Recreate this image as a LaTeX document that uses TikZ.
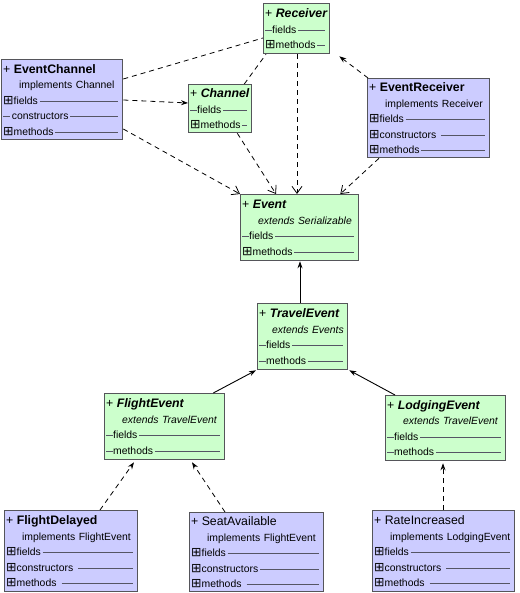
\documentclass[tikz,border=0pt]{standalone}
\usepackage{fontspec}
\setmainfont{Liberation Sans}
\newfontfamily\symfont{DejaVu Sans}
\usepackage{xcolor}
\usetikzlibrary{arrows.meta}

\definecolor{clsblue}{RGB}{204,204,255}
\definecolor{clsgreen}{RGB}{204,255,204}
\definecolor{clsborder}{RGB}{85,85,90}
\definecolor{rowline}{RGB}{85,85,100}

% one line of a class box
\newcommand{\rowfill}{{\color{rowline}\leaders\hrule height 3.5pt depth -2.5pt\hfill}\kern3pt}
\newcommand{\plusrow}[1]{\noindent\hbox to\linewidth{{\symfont\fontsize{12.5}{12}\selectfont ⊞}#1\,\rowfill}}
\newcommand{\barrow}[1]{\noindent\hbox to\linewidth{{\color{rowline}\rule[2.5pt]{7pt}{1pt}}#1\,\rowfill}}
\newcommand{\clstitle}[1]{\noindent\hbox{\fontsize{12.3}{15}\selectfont + #1}}
\newcommand{\clssub}[1]{\noindent\hbox{\hspace*{16pt}#1}}

\begin{document}
\begin{tikzpicture}[x=1pt,y=-1pt]
    \tikzset{
      cls/.style 2 args={
        rectangle,
        draw=clsborder,
        line width=1.3pt,
        anchor=north west,
        align=left,
        inner xsep=1.5pt,
        inner ysep=1pt,
        minimum width=#1,
        text width=\dimexpr#1pt-3pt\relax,
        minimum height=#2,
        font=\fontsize{10.4}{15.5}\selectfont,
      },
      bluecls/.style={fill=clsblue},
      greencls/.style={fill=clsgreen},
      dep/.style={dashed, dash pattern=on 5pt off 4pt, line width=0.8pt},
      realize/.style={dep, -{Straight Barb[length=7pt,width=10pt]}},
      uses/.style={dep, -{Stealth[length=7pt,width=5pt]}},
      inherit/.style={line width=0.9pt, -{Stealth[length=7pt,width=5pt]}},
    }
    \useasboundingbox (0,0) rectangle (519,593);

    % interfaces
    \node[cls={66}{50}, greencls] (recv) at (263,3)
      {\clstitle{\textbf{\textit{Receiver}}}\\ \barrow{fields}\\ \plusrow{methods}};
    \node[cls={63}{48}, greencls] (chan) at (188,84)
      {\clstitle{\textbf{\textit{Channel}}}\\ \barrow{fields}\\ \plusrow{methods}};
    \node[cls={118}{66}, greencls] (event) at (240,194)
      {\clstitle{\textbf{\textit{Event}}}\\ \clssub{\textit{extends Serializable}}\\ \barrow{fields}\\ \plusrow{methods}};
    \node[cls={90}{66}, greencls] (travel) at (257,303)
      {\clstitle{\textbf{\textit{TravelEvent}}}\\ \clssub{\hspace*{-3pt}\textit{extends Events}}\\ \barrow{fields}\\ \barrow{methods}};
    \node[cls={120}{66}, greencls] (flight) at (104,393)
      {\clstitle{\textbf{\textit{FlightEvent}}}\\ \clssub{\textit{extends TravelEvent}}\\ \barrow{fields}\\ \barrow{methods}};
    \node[cls={120}{65}, greencls] (lodging) at (385,395)
      {\clstitle{\textbf{\textit{LodgingEvent}}}\\ \clssub{\textit{extends TravelEvent}}\\ \barrow{fields}\\ \barrow{methods}};

    % classes
    \node[cls={121}{80}, bluecls] (echan) at (1,59)
      {\clstitle{\textbf{EventChannel}}\\ \clssub{implements Channel}\\ \plusrow{fields}\\ \barrow{\,constructors}\\ \plusrow{methods}};
    \node[cls={122}{79}, bluecls] (erecv) at (367,78)
      {\clstitle{\textbf{EventReceiver}}\\ \clssub{implements Receiver}\\ \plusrow{fields}\\ \plusrow{constructors }\\ \plusrow{methods}};
    \node[cls={133}{81}, bluecls] (fdelay) at (4,510)
      {\clstitle{\textbf{FlightDelayed}}\\ \clssub{implements FlightEvent}\\ \plusrow{fields}\\ \plusrow{constructors }\\ \plusrow{methods }};
    \node[cls={134}{79}, bluecls] (seat) at (189,512)
      {\clstitle{SeatAvailable}\\ \clssub{implements FlightEvent}\\ \plusrow{fields}\\ \plusrow{constructors}\\ \plusrow{methods }};
    \node[cls={142}{81}, bluecls] (rate) at (372,510)
      {\clstitle{RateIncreased}\\ \clssub{implements LodgingEvent}\\ \plusrow{fields}\\ \plusrow{constructors }\\ \plusrow{methods }};

    % dependencies
    \draw[dep] ([yshift=-20pt]echan.north east) -- ([yshift=-35pt]recv.north west);
    \draw[uses] ([yshift=-41pt]echan.north east) -- ([yshift=-19pt]chan.north west);
    \draw[realize] ([yshift=-70pt]echan.north east) -- (event.north west);
    \draw[dep] ([xshift=-8pt]chan.north east) -- ([xshift=3pt]recv.south west);
    \draw[realize] ([xshift=-15pt]chan.south east) -- ([xshift=36pt]event.north west);
    \draw[realize] ([xshift=34pt]recv.south west) -- ([xshift=57pt]event.north west);
    \draw[realize] ([xshift=12pt]erecv.south west) -- ([xshift=-19pt]event.north east);
    \draw[uses] ([xshift=1pt]erecv.north west) -- ([xshift=9pt,yshift=-2pt]recv.south east);

    % inheritance
    \draw[inherit] ([xshift=43pt]travel.north west) -- ([xshift=60pt]event.south west);
    \draw[inherit] ([xshift=-12pt]flight.north east) -- ([xshift=-1pt]travel.south west);
    \draw[inherit] ([xshift=10pt]lodging.north west) -- ([xshift=1pt]travel.south east);
    \draw[uses] ([xshift=96pt]fdelay.north west) -- ([xshift=30pt,yshift=-2pt]flight.south west);
    \draw[uses] ([xshift=36pt]seat.north west) -- ([xshift=88pt,yshift=-2pt]flight.south west);
    \draw[uses] ([xshift=71pt]rate.north west) -- ([xshift=58pt,yshift=-2pt]lodging.south west);
\end{tikzpicture}
\end{document}
